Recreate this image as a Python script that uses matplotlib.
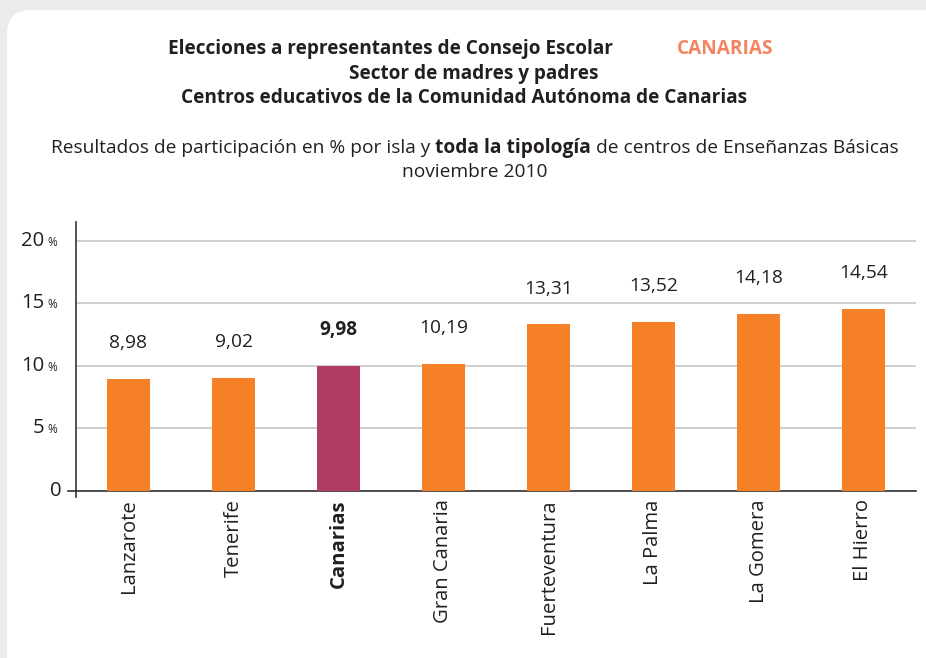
import matplotlib
matplotlib.use('Agg')
import matplotlib.pyplot as plt
from matplotlib.patches import FancyBboxPatch
from matplotlib.lines import Line2D

plt.rcParams['font.family'] = 'Open Sans'

# data
islas = ['Lanzarote', 'Tenerife', 'Canarias', 'Gran Canaria',
         'Fuerteventura', 'La Palma', 'La Gomera', 'El Hierro']
participacion = [8.98, 9.02, 9.98, 10.19, 13.31, 13.52, 14.18, 14.54]
etiquetas = ['8,98', '9,02', '9,98', '10,19', '13,31', '13,52', '14,18', '14,54']
destacado = 'Canarias'
yticks = [0, 5, 10, 15, 20]

naranja = '#f58025'
morado = '#b03c64'
gris_texto = '#231f20'
fs = 13.8      # general text size
fs_tit = 13.7  # title size
fs_cat = 14.6  # category labels

W, H = 926, 658
fig = plt.figure(figsize=(W / 100, H / 100), dpi=100, facecolor='#ebebeb')

# white rounded panel (pixel coords)
panel = FancyBboxPatch((7, -30), 945, H - 10 + 30,
                       boxstyle='round,pad=0,rounding_size=24',
                       transform=None, facecolor='white', edgecolor='none',
                       zorder=-10)
fig.patches.append(panel)

# titles
fig.text(168 / W, 1 - 49 / H, 'Elecciones a representantes de Consejo Escolar',
         ha='left', va='center', fontsize=fs_tit, weight='bold', color=gris_texto)
fig.text(677 / W, 1 - 49 / H, 'CANARIAS', ha='left', va='center',
         fontsize=fs_tit, weight='bold', color='#f4845f')
fig.text(474 / W, 1 - 74 / H, 'Sector de madres y padres', ha='center', va='center',
         fontsize=fs_tit, weight='bold', color=gris_texto)
fig.text(464 / W, 1 - 98 / H, 'Centros educativos de la Comunidad Autónoma de Canarias',
         ha='center', va='center', fontsize=fs_tit, weight='bold', color=gris_texto)

# subtitle with bold part, laid out piece by piece
partes = [('Resultados de participación en % por isla y ', 'normal'),
          ('toda la tipología', 'bold'),
          (' de centros de Enseñanzas Básicas', 'normal')]
fig.canvas.draw()
renderer = fig.canvas.get_renderer()
textos = []
for s, w in partes:
    t = fig.text(0, 1 - 148 / H, s, ha='left', va='center', fontsize=fs,
                 weight=w, color=gris_texto)
    textos.append(t)
anchos = [t.get_window_extent(renderer).width for t in textos]
x0 = 474.5 - sum(anchos) / 2
for t, a in zip(textos, anchos):
    t.set_x(x0 / W)
    x0 += a
fig.text(474.5 / W, 1 - 172 / H, 'noviembre 2010', ha='center', va='center',
         fontsize=fs, color=gris_texto)

# axes
ax = fig.add_axes([76 / W, (H - 491) / H, 840 / W, 269 / H])
ax.set_facecolor('none')
x = range(len(islas))
colores = [morado if n == destacado else naranja for n in islas]
ax.bar(x, participacion, width=0.41, color=colores, zorder=3)
ax.set_xlim(-0.5, len(islas) - 0.5)
ax.set_ylim(0, 21.5)

ax.set_yticks(yticks)
ax.set_yticklabels([])
ax.yaxis.grid(True, color='#c8c8c8', lw=1.2, zorder=0)
ax.set_axisbelow(True)
ax.tick_params(axis='both', length=0)
for s in ['top', 'right']:
    ax.spines[s].set_visible(False)
for s in ['left', 'bottom']:
    ax.spines[s].set_color('#333333')
    ax.spines[s].set_linewidth(1.2)

# y tick labels with small %
for v in yticks:
    if v == 0:
        ax.annotate('0', xy=(0, v), xycoords=('axes fraction', 'data'),
                    xytext=(-10, 0), textcoords='offset points',
                    ha='right', va='center', fontsize=fs_cat, color=gris_texto)
    else:
        ax.annotate(str(v), xy=(0, v), xycoords=('axes fraction', 'data'),
                    xytext=(-23, 0), textcoords='offset points',
                    ha='right', va='center', fontsize=fs_cat, color=gris_texto)
        ax.annotate('%', xy=(0, v), xycoords=('axes fraction', 'data'),
                    xytext=(-13.5, -1), textcoords='offset points',
                    ha='right', va='center', fontsize=8.5, color=gris_texto)

# extended axis ends
fig.lines.append(Line2D([68, 76], [H - 491, H - 491], transform=None,
                        color='#333333', lw=1.2))
fig.lines.append(Line2D([76, 76], [H - 497, H - 491], transform=None,
                        color='#333333', lw=1.2))

# value labels
for i, (v, lab, n) in enumerate(zip(participacion, etiquetas, islas)):
    ax.text(i, v + 2.85, lab, ha='center', va='center', fontsize=fs,
            color=gris_texto, weight='bold' if n == destacado else 'normal')

# category labels
ax.set_xticks(list(x))
ax.set_xticklabels(islas, rotation=90, fontsize=fs_cat, va='top', ha='center',
                   color=gris_texto)
ax.tick_params(axis='x', pad=6)
for lbl in ax.get_xticklabels():
    if lbl.get_text() == destacado:
        lbl.set_fontweight('bold')

fig.savefig('out.png', dpi=100, facecolor=fig.get_facecolor())
